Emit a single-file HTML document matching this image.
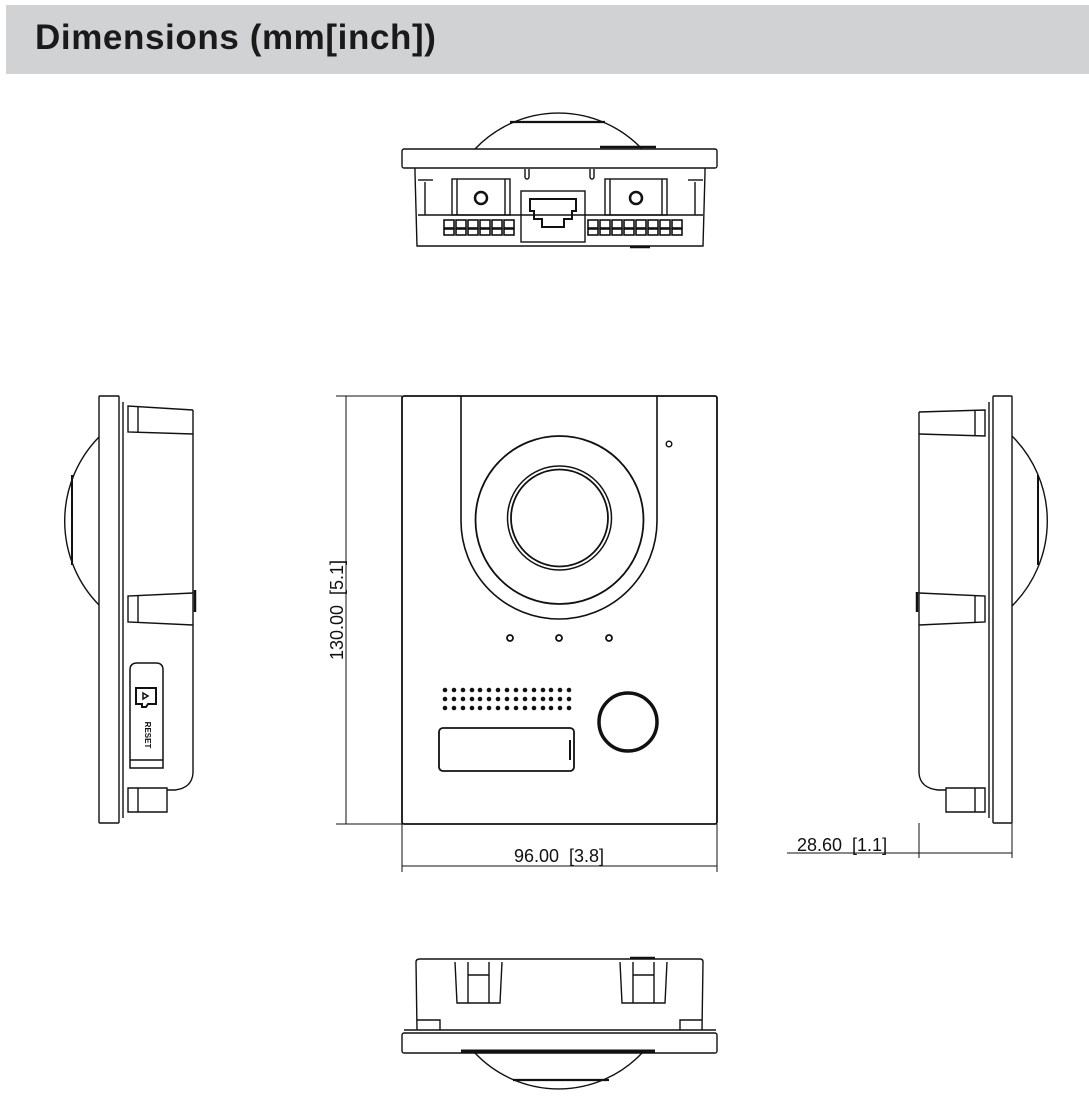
<!DOCTYPE html>
<html><head><meta charset="utf-8"><style>
html,body{margin:0;padding:0;background:#fff;}
body{width:1089px;height:1101px;overflow:hidden;position:relative;}
.hdr{position:absolute;left:6px;top:5px;width:1083px;height:69px;background:#d1d2d4;}
.hdr span{position:absolute;left:29px;top:13px;font:bold 35px "Liberation Sans",sans-serif;color:#1a1a1a;letter-spacing:0.6px;}
svg{position:absolute;left:0;top:0;}
</style></head><body>
<div class="hdr"><span>Dimensions (mm[inch])</span></div>
<svg width="1089" height="1101" viewBox="0 0 1089 1101" fill="none" stroke="#111" stroke-width="1.4">
<!-- TOP VIEW -->
<path d="M475 149 A115 115 0 0 1 642 149"/>
<line x1="510" y1="122" x2="605" y2="122" stroke-width="2.2"/>
<rect x="402" y="149" width="315" height="19" rx="2"/>
<line x1="600" y1="147" x2="656" y2="147" stroke-width="2.5"/>
<path d="M415 168 L415 173 L417 246 L703 246 L705 173 L705 168"/>
<line x1="418" y1="180" x2="433" y2="180"/><line x1="688" y1="180" x2="703" y2="180"/>
<line x1="425" y1="182" x2="425" y2="215"/><line x1="695" y1="182" x2="695" y2="215"/>
<rect x="452" y="179" width="58" height="36"/><line x1="457" y1="179" x2="457" y2="215"/><line x1="505" y1="179" x2="505" y2="215"/>
<circle cx="481" cy="198" r="6" stroke-width="2.5"/>
<rect x="605" y="179" width="62" height="36"/><line x1="610" y1="179" x2="610" y2="215"/><line x1="662" y1="179" x2="662" y2="215"/>
<circle cx="636" cy="198" r="6" stroke-width="2.5"/>
<line x1="418" y1="215" x2="703" y2="215"/>
<path d="M525 169 v8 a2 2 0 0 0 4 0 v-8 M590 169 v8 a2 2 0 0 0 4 0 v-8"/>
<rect x="521" y="191" width="64" height="51"/>
<path d="M530 199 h46 v12 h-4 v8 h-8 v8 h-22 v-8 h-8 v-8 h-4z" stroke-width="2"/>
<g stroke-width="1.6">
<rect x="444" y="220" width="10" height="8"/><rect x="456" y="220" width="10" height="8"/><rect x="468" y="220" width="10" height="8"/><rect x="480" y="220" width="10" height="8"/><rect x="492" y="220" width="10" height="8"/><rect x="504" y="220" width="10" height="8"/>
<rect x="444" y="229" width="10" height="6"/><rect x="456" y="229" width="10" height="6"/><rect x="468" y="229" width="10" height="6"/><rect x="480" y="229" width="10" height="6"/><rect x="492" y="229" width="10" height="6"/><rect x="504" y="229" width="10" height="6"/>
<rect x="588" y="220" width="10" height="8"/><rect x="600" y="220" width="10" height="8"/><rect x="612" y="220" width="10" height="8"/><rect x="624" y="220" width="10" height="8"/><rect x="636" y="220" width="10" height="8"/><rect x="648" y="220" width="10" height="8"/><rect x="660" y="220" width="10" height="8"/><rect x="672" y="220" width="10" height="8"/>
<rect x="588" y="229" width="10" height="6"/><rect x="600" y="229" width="10" height="6"/><rect x="612" y="229" width="10" height="6"/><rect x="624" y="229" width="10" height="6"/><rect x="636" y="229" width="10" height="6"/><rect x="648" y="229" width="10" height="6"/><rect x="660" y="229" width="10" height="6"/><rect x="672" y="229" width="10" height="6"/>
</g>
<line x1="630" y1="247" x2="650" y2="247" stroke-width="2.5"/>

<!-- FRONT VIEW -->
<rect x="402" y="396" width="315" height="428" rx="2" stroke-width="1.8"/>
<path d="M461 396 L461 521 A98 98 0 0 0 657 521 L657 396" stroke-width="1.6"/>
<circle cx="559.5" cy="520" r="84" stroke-width="1.8"/>
<circle cx="559.5" cy="518" r="52" stroke-width="1.5"/>
<circle cx="559.5" cy="518" r="48.5" stroke-width="1.8"/>
<circle cx="669" cy="444" r="2.8" stroke-width="1.4"/>
<circle cx="510" cy="638" r="3" stroke-width="1.8"/><circle cx="559" cy="638" r="3" stroke-width="1.8"/><circle cx="609" cy="638" r="3" stroke-width="1.8"/>
<g fill="#111" stroke="none" id="spk">
<circle cx="445" cy="690" r="2.3"/><circle cx="454" cy="690" r="2.3"/><circle cx="463" cy="690" r="2.3"/><circle cx="472" cy="690" r="2.3"/><circle cx="480" cy="690" r="2.3"/><circle cx="489" cy="690" r="2.3"/><circle cx="498" cy="690" r="2.3"/><circle cx="507" cy="690" r="2.3"/><circle cx="516" cy="690" r="2.3"/><circle cx="525" cy="690" r="2.3"/><circle cx="534" cy="690" r="2.3"/><circle cx="543" cy="690" r="2.3"/><circle cx="551" cy="690" r="2.3"/><circle cx="560" cy="690" r="2.3"/><circle cx="569" cy="690" r="2.3"/>
</g>
<use href="#spk" y="9"/><use href="#spk" y="18"/>
<circle cx="628" cy="722" r="29" stroke-width="3.5"/>
<rect x="439" y="728" width="135" height="43" rx="4" stroke-width="1.8"/>
<line x1="570" y1="740" x2="570" y2="760" stroke-width="2"/>
<!-- dims -->
<line x1="336" y1="396" x2="402" y2="396" stroke-width="1"/>
<line x1="336" y1="824" x2="402" y2="824" stroke-width="1"/>
<line x1="346" y1="396" x2="346" y2="824" stroke-width="1"/>
<line x1="402" y1="824" x2="402" y2="872" stroke-width="1"/>
<line x1="717" y1="824" x2="717" y2="872" stroke-width="1"/>
<line x1="402" y1="866" x2="717" y2="866" stroke-width="1"/>
<g fill="#111" stroke="none" font-family="Liberation Sans, sans-serif" font-size="18">
<text x="559" y="862" text-anchor="middle" xml:space="preserve">96.00  [3.8]</text>
<text transform="translate(343,610) rotate(-90)" text-anchor="middle" xml:space="preserve">130.00  [5.1]</text>
<text x="797" y="851" xml:space="preserve">28.60  [1.1]</text>
</g>

<!-- RIGHT VIEW -->
<rect x="993" y="396" width="19" height="427" rx="1"/>
<line x1="989" y1="402" x2="989" y2="818"/>
<path d="M1012 436 A120 120 0 0 1 1012 606"/>
<line x1="1038" y1="475" x2="1038" y2="565" stroke-width="2"/>
<path d="M919 412 L919 773 Q920 788 938 790 L946 790"/>
<path d="M919 412 L985 410 L985 436 L919 434"/><line x1="975" y1="411" x2="975" y2="435"/>
<path d="M919 593 L985 596 L985 622 L919 625"/><line x1="975" y1="595" x2="975" y2="623"/>
<path d="M946 788 L985 788 L985 812 L946 812 Z"/><line x1="975" y1="788" x2="975" y2="812"/>
<line x1="917" y1="592" x2="917" y2="612" stroke-width="2.5"/>
<line x1="787" y1="853" x2="1012" y2="853" stroke-width="1"/>
<line x1="919" y1="823" x2="919" y2="858" stroke-width="1"/>
<line x1="1012" y1="823" x2="1012" y2="858" stroke-width="1"/>

<!-- LEFT VIEW -->
<rect x="99" y="396" width="20" height="427" rx="1"/>
<line x1="123" y1="402" x2="123" y2="818"/>
<path d="M99 437 A120 120 0 0 0 99 605"/>
<line x1="72" y1="475" x2="72" y2="565" stroke-width="2"/>
<path d="M193 410 L193 773 Q192 788 175 790 L167 790"/>
<path d="M193 410 L128 406 L128 432 L193 434"/><line x1="138" y1="407" x2="138" y2="432"/>
<path d="M193 593 L128 596 L128 622 L193 625"/><line x1="138" y1="595" x2="138" y2="623"/>
<path d="M167 788 L128 788 L128 812 L167 812 Z"/><line x1="138" y1="788" x2="138" y2="812"/>
<line x1="195" y1="590" x2="195" y2="612" stroke-width="2.5"/>
<path d="M130 768 L130 670 Q130 663 137 663 L156 663 Q163 663 163 670 L163 768 Z" stroke-width="1.5"/>
<line x1="130" y1="760" x2="163" y2="760"/>
<path d="M136 688 h20 v16 h-8 l-2 3 h-4 v-3 h-6 z" stroke-width="2"/>
<path d="M143 693 l5 3 l-5 3 z" stroke-width="1.5"/>
<text transform="translate(145,735) rotate(90)" text-anchor="middle" fill="#111" stroke="none" font-family="Liberation Sans, sans-serif" font-weight="bold" font-size="8">RESET</text>

<!-- BOTTOM VIEW -->
<path d="M417 1030 L416 962 Q416 959 420 959 L700 959 Q703 959 703 962 L702 1030"/>
<line x1="630" y1="958" x2="655" y2="958" stroke-width="2.5"/>
<path d="M455 962 L457 1003 L500 1003 L502 962"/><line x1="468" y1="975" x2="489" y2="975"/><line x1="468" y1="962" x2="468" y2="1003"/><line x1="489" y1="962" x2="489" y2="1003"/>
<path d="M620 962 L622 1003 L665 1003 L667 962"/><line x1="633" y1="975" x2="654" y2="975"/><line x1="633" y1="962" x2="633" y2="1003"/><line x1="654" y1="962" x2="654" y2="1003"/>
<path d="M417 1020 L440 1020 L440 1030 M702 1020 L680 1020 L680 1030"/>
<line x1="404" y1="1030" x2="716" y2="1030"/>
<rect x="402" y="1033" width="315" height="20" rx="2"/>
<line x1="461" y1="1051" x2="655" y2="1051" stroke-width="3"/>
<path d="M475 1053 A115 115 0 0 0 642 1053"/>
<line x1="513" y1="1080" x2="609" y2="1080" stroke-width="2.2"/>
</svg>
</body></html>
